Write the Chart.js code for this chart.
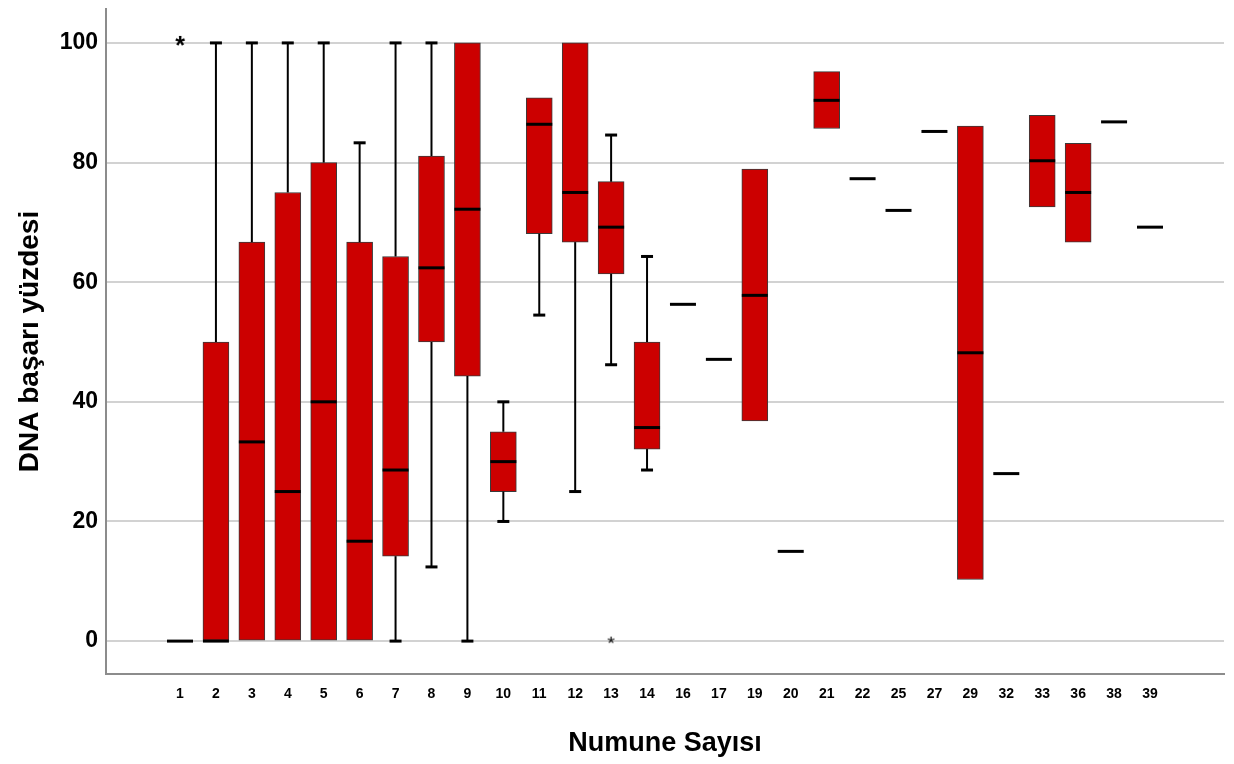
<!DOCTYPE html>
<html>
<head>
<meta charset="utf-8">
<script src="https://cdn.jsdelivr.net/npm/chart.js@4.4.0/dist/chart.umd.min.js"></script>
<style>
  html, body { margin: 0; padding: 0; background: #ffffff; }
  canvas { display: block; }
</style>
</head>
<body>
<canvas id="boxChart" width="1234" height="764"></canvas>
<script>
/* --------------- Data -------------------------------------------- */
const categories  = ['1', '2', '3', '4', '5', '6', '7', '8', '9', '10', '11', '12', '13', '14',
                     '16', '17', '19', '20', '21', '22', '25', '27', '29', '32', '33', '36', '38', '39'];
const whiskerLow  = [0, 0, 0, 0, 0, 0, 0, 12.4, 0, 20, 54.5, 25, 46.2, 28.6,
                     56.3, 47.1, 36.8, 15, 85.7, 77.3, 72, 85.2, 10.3, 28, 72.6, 66.7, 86.8, 69.2];
const q1          = [0, 0, 0, 0, 0, 0, 14.2, 50, 44.3, 25, 68.1, 66.7, 61.4, 32.1,
                     56.3, 47.1, 36.8, 15, 85.7, 77.3, 72, 85.2, 10.3, 28, 72.6, 66.7, 86.8, 69.2];
const median      = [0, 0, 33.3, 25, 40, 16.7, 28.6, 62.4, 72.2, 30, 86.4, 75, 69.2, 35.7,
                     56.3, 47.1, 57.8, 15, 90.4, 77.3, 72, 85.2, 48.2, 28, 80.3, 75, 86.8, 69.2];
const q3          = [0, 50, 66.7, 75, 80, 66.7, 64.3, 81.1, 100, 35, 90.8, 100, 76.8, 50,
                     56.3, 47.1, 78.9, 15, 95.2, 77.3, 72, 85.2, 86.1, 28, 87.9, 83.2, 86.8, 69.2];
const whiskerHigh = [0, 100, 100, 100, 100, 83.3, 100, 100, 100, 40, 90.8, 100, 84.6, 64.3,
                     56.3, 47.1, 78.9, 15, 95.2, 77.3, 72, 85.2, 86.1, 28, 87.9, 83.2, 86.8, 69.2];
const outlierCats   = ['1', '13'];
const outlierValues = [100, 0];
const yTicks = [0, 20, 40, 60, 80, 100];

/* --------------- Styles --------------------- */
const boxRed = '#cc0000';
const fontFamily = "'Liberation Sans', Arial, sans-serif";

// asterisk marker used as point style (SPSS style outlier)
function asteriskMarker(size, weight) {
    const c = document.createElement('canvas');
    c.width = size; c.height = size;
    const g = c.getContext('2d');
    g.fillStyle = '#000';
    g.font = weight + ' ' + Math.round(size * 1.25) + 'px ' + fontFamily;
    g.textAlign = 'center';
    g.textBaseline = 'middle';
    g.fillText('*', size / 2, size * 0.72);
    return c;
}

/* --------------- Build datasets --------------------- */
const boxData = [];
categories.forEach((c, i) => {
    if (q3[i] > q1[i]) boxData.push({ x: i, y: [q1[i], q3[i]] });
});
const outlierData = outlierCats.map((c, k) => ({ x: categories.indexOf(c), y: outlierValues[k] }));

/* --------------- Whiskers + medians --------------------- */
const boxPlotPlugin = {
    id: 'boxPlot',
    afterDatasetsDraw(chart) {
        const ctx = chart.ctx;
        const xs = chart.scales.x;
        const ys = chart.scales.y;
        const half = 13, cap = 6;
        ctx.save();
        ctx.strokeStyle = '#000';
        categories.forEach((c, i) => {
            const x = xs.getPixelForValue(i);
            // upper whisker
            if (whiskerHigh[i] > q3[i]) {
                ctx.lineWidth = 2;
                ctx.beginPath();
                ctx.moveTo(x, ys.getPixelForValue(q3[i]));
                ctx.lineTo(x, ys.getPixelForValue(whiskerHigh[i]));
                ctx.stroke();
                ctx.lineWidth = 3;
                ctx.beginPath();
                ctx.moveTo(x - cap, ys.getPixelForValue(whiskerHigh[i]));
                ctx.lineTo(x + cap, ys.getPixelForValue(whiskerHigh[i]));
                ctx.stroke();
            }
            // lower whisker
            if (whiskerLow[i] < q1[i]) {
                ctx.lineWidth = 2;
                ctx.beginPath();
                ctx.moveTo(x, ys.getPixelForValue(q1[i]));
                ctx.lineTo(x, ys.getPixelForValue(whiskerLow[i]));
                ctx.stroke();
                ctx.lineWidth = 3;
                ctx.beginPath();
                ctx.moveTo(x - cap, ys.getPixelForValue(whiskerLow[i]));
                ctx.lineTo(x + cap, ys.getPixelForValue(whiskerLow[i]));
                ctx.stroke();
            }
            // median
            const my = ys.getPixelForValue(median[i]);
            ctx.lineWidth = 3;
            ctx.beginPath();
            ctx.moveTo(x - half, my);
            ctx.lineTo(x + half, my);
            ctx.stroke();
        });
        ctx.restore();
    }
};

/* --------------- Chart --------------------- */
const boxChart = new Chart(document.getElementById('boxChart'), {
    type: 'bar',
    plugins: [boxPlotPlugin],
    data: {
        datasets: [
            {
                type: 'bar',
                data: boxData,
                backgroundColor: boxRed,
                borderColor: '#3a3a3a',
                borderWidth: 1,
                borderSkipped: false,
                barThickness: 26
            },
            {
                type: 'scatter',
                data: outlierData,
                pointStyle: [asteriskMarker(20, 'bold'), asteriskMarker(15, 'normal')],
                pointRadius: 8
            }
        ]
    },
    options: {
        responsive: false,
        animation: false,
        layout: { padding: { top: 7, right: 10, left: 0, bottom: 0 } },
        plugins: {
            legend: { display: false },
            tooltip: { enabled: false }
        },
        scales: {
            x: {
                type: 'linear',
                offset: false,
                min: -2.06,
                max: 29.06,
                grid: { display: false, drawTicks: false },
                border: { display: true, color: '#8c8c8c', width: 2 },
                afterBuildTicks: (scale) => {
                    scale.ticks = categories.map((c, i) => ({ value: i }));
                },
                afterFit: (scale) => {
                    scale.height = 90;
                    scale.paddingLeft = 0;
                    scale.paddingRight = 0;
                },
                ticks: {
                    autoSkip: false,
                    maxRotation: 0,
                    padding: 12,
                    color: '#000',
                    font: { family: fontFamily, size: 14, weight: 'bold' },
                    callback: (v) => categories[v]
                },
                title: {
                    display: true,
                    text: 'Numune Sayısı',
                    color: '#000',
                    font: { family: fontFamily, size: 27, weight: 'bold' },
                    padding: { top: 0, bottom: 4 }
                }
            },
            y: {
                min: -5.5,
                max: 105.67,
                grid: { color: '#d2d2d2', lineWidth: 2, drawTicks: false },
                border: { display: true, color: '#8c8c8c', width: 2 },
                afterBuildTicks: (scale) => {
                    scale.ticks = yTicks.map(v => ({ value: v }));
                },
                afterFit: (scale) => {
                    scale.width = 106;
                    scale.paddingTop = 0;
                    scale.paddingBottom = 0;
                },
                ticks: {
                    padding: 8,
                    color: '#000',
                    font: { family: fontFamily, size: 23, weight: 'bold' }
                },
                title: {
                    display: true,
                    text: 'DNA başarı yüzdesi',
                    color: '#000',
                    font: { family: fontFamily, size: 28, weight: 'bold' },
                    padding: { top: 13, bottom: 0 }
                }
            }
        }
    }
});
</script>
</body>
</html>
